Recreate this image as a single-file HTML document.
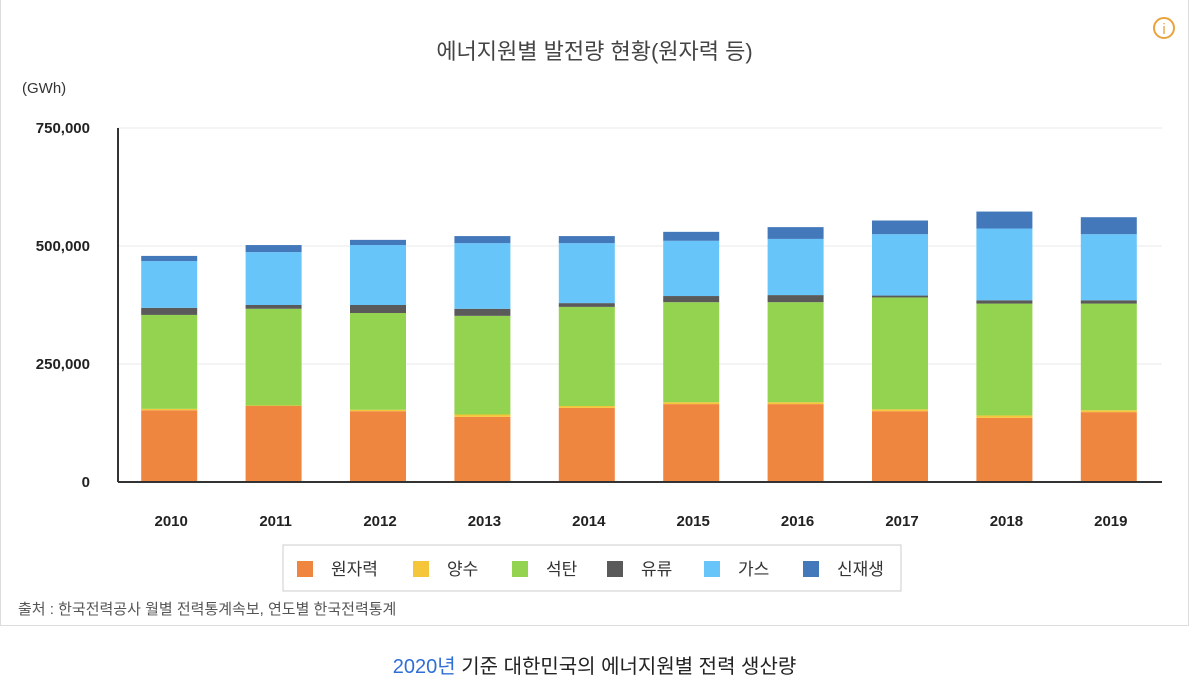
<!DOCTYPE html>
<html><head><meta charset="utf-8">
<style>
body{margin:0;width:1189px;height:685px;background:#fff;font-family:"Liberation Sans","Noto Sans CJK KR",sans-serif;position:relative;overflow:hidden}
.card{position:absolute;left:0;top:0;width:1187px;height:625px;border:1px solid #ddd;border-top:none;background:#fff}
.title{position:absolute;left:0;width:1189px;top:34px;text-align:center;font-size:22px;color:#444}
.unit{position:absolute;left:22px;top:80px;font-size:15px;color:#333}
.info{position:absolute;left:1153px;top:17px;width:22px;height:22px;border:2px solid #e8a33d;border-radius:50%;color:#e8a33d;font-size:15px;text-align:center;line-height:22px;box-sizing:border-box}
.src{position:absolute;left:18px;top:598px;font-size:15px;color:#555}
.caption{position:absolute;left:0;width:1189px;top:650px;text-align:center;font-size:20px;color:#222}
.caption span{color:#2f6fd6}
</style></head><body>
<div class="card"></div>
<div class="title">에너지원별 발전량 현황(원자력 등)</div>
<div class="unit">(GWh)</div>
<div class="info">i</div>
<svg id="chart" width="1189" height="685" style="position:absolute;left:0;top:0"></svg>
<div class="src">출처 : 한국전력공사 월별 전력통계속보, 연도별 한국전력통계</div>
<div class="caption"><span>2020년</span> 기준 대한민국의 에너지원별 전력 생산량</div>
<script>
const years=["2010","2011","2012","2013","2014","2015","2016","2017","2018","2019"];
const nuclear=[152,161,150,138,157,165,165,150,136,148];
const pumped=[3,1,3,5,4,4,4,4,5,4];
const coal=[199,205,205,209,210,212,212,237,237,226];
const oil=[15,8,17,15,8,13,15,4,7,7];
const gas=[99,112,127,139,127,117,119,130,152,140];
const renew=[11,15,11,15,15,19,25,29,36,36];
const yTicks=[0,250,500,750];
const yTickLabels=["0","250,000","500,000","750,000"];
const seriesNames=["원자력","양수","석탄","유류","가스","신재생"];
const seriesData=[nuclear,pumped,coal,oil,gas,renew];
const colors=["#ee8640","#f5c53a","#94d350","#5a5a5a","#68c5fa","#4379bb"];
const svg=document.getElementById('chart');
const NS="http://www.w3.org/2000/svg";
const x0=118,x1=1162,y0=482,yTop=128;
function y(v){return y0-(v/750)*(y0-yTop);}
const band=(x1-x0)/years.length;
function xc(i){return x0+band*(i+0.5)+1;}
function el(t,a){const e=document.createElementNS(NS,t);for(const k in a)e.setAttribute(k,a[k]);svg.appendChild(e);return e;}
yTicks.forEach((t,i)=>{
 if(t>0){const g=el('line',{x1:x0,x2:x1,y1:y(t),y2:y(t),stroke:'#e8e8e8','stroke-width':1});
 
 }
 const tx=el('text',{x:90,y:y(t)+5,'text-anchor':'end','font-size':15,'font-weight':'bold',fill:'#222','font-family':'Liberation Sans'});
 tx.textContent=yTickLabels[i];
 
 
});
years.forEach((yr,i)=>{
 let base=0;
 seriesData.forEach((s,k)=>{
  const v=s[i];
  const r=el('rect',{x:xc(i)-30,width:56,y:y(base+v),height:y(base)-y(base+v),fill:colors[k]});
  
  
  base+=v;
 });
 const t=el('text',{x:xc(i),y:526,'text-anchor':'middle','font-size':15,'font-weight':'bold',fill:'#222','font-family':'Liberation Sans'});
 t.textContent=yr;
 
 
});
const ax=el('line',{x1:x0,x2:x0,y1:128,y2:482,stroke:'#333','stroke-width':2});


const bx=el('line',{x1:x0,x2:x1,y1:482,y2:482,stroke:'#333','stroke-width':2});


const lg=el('rect',{x:283,y:545,width:618,height:46,fill:'#fff',stroke:'#ccc'});


const lx=[297,413,512,607,704,803];
seriesNames.forEach((n,k)=>{
 const s=el('rect',{x:lx[k],y:561,width:16,height:16,fill:colors[k]});
 
 
 const t=el('text',{x:lx[k]+34,y:575,'font-size':17,fill:'#333','font-family':'Liberation Sans, Noto Sans CJK KR, sans-serif'});
 t.textContent=n;
 
 
});
</script>
</body></html>
